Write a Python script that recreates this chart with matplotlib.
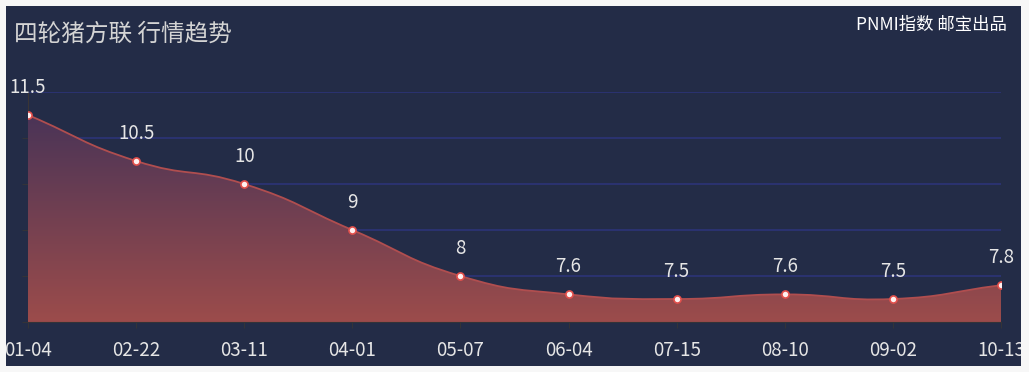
import matplotlib.pyplot as plt
import numpy as np
from matplotlib.path import Path
from matplotlib.patches import PathPatch, Rectangle
from matplotlib.colors import LinearSegmentedColormap

plt.rcParams['font.family'] = ['Noto Sans CJK SC', 'DejaVu Sans']

# 数据
dates = ['01-04', '02-22', '03-11', '04-01', '05-07', '06-04', '07-15', '08-10', '09-02', '10-13']
prices = [11.5, 10.5, 10, 9, 8, 7.6, 7.5, 7.6, 7.5, 7.8]
title = '四轮猪方联 行情趋势'
credit = 'PNMI指数 邮宝出品'

W, H = 1029, 372
bg = '#232c47'
fig = plt.figure(figsize=(W / 100, H / 100), dpi=100)
fig.patch.set_facecolor('#f7f7f7')
fig.add_artist(Rectangle((6 / W, 6 / H), 1015 / W, 361 / H, transform=fig.transFigure,
                         facecolor=bg, edgecolor='none', zorder=-5))

ax = fig.add_axes([28 / W, 50 / H, 973 / W, 230 / H])
ax.set_facecolor('none')
x = np.arange(len(dates))
ax.set_xlim(0, len(dates) - 1)
ax.set_ylim(7, 12)

# 网格线
for v in [8, 9, 10, 11, 12]:
    ax.axhline(v, color='#2c3478', lw=1.2, zorder=1)

for s in ['top', 'right']:
    ax.spines[s].set_visible(False)
ax.spines['left'].set_color('#3a3535')
ax.spines['bottom'].set_color('#333338')
ax.spines['left'].set_zorder(0.5)

ax.set_xticks(x)
ax.set_xticklabels(dates, fontweight='medium')
ax.set_yticks([7, 8, 9, 10, 11, 12])
ax.set_yticklabels([])
ax.tick_params(axis='x', colors='#333338', labelcolor='#e6e6e6', labelsize=13.5,
               length=4, pad=9)
ax.tick_params(axis='y', colors='#333338', length=4)

# 平滑曲线 (echarts 风格)
fig.canvas.draw()
pts = ax.transData.transform(np.column_stack([x, prices]))
smooth = 0.5
cps = []
for i in range(len(pts)):
    prev = pts[i - 1] if i > 0 else pts[i]
    nxt = pts[i + 1] if i < len(pts) - 1 else pts[i]
    v = (nxt - prev) * smooth
    d0 = np.hypot(*(pts[i] - prev))
    d1 = np.hypot(*(pts[i] - nxt))
    s = d0 + d1
    if s:
        d0, d1 = d0 / s, d1 / s
    cps.append((pts[i] - v * d0, pts[i] + v * d1))

verts = [pts[0]]
codes = [Path.MOVETO]
for i in range(len(pts) - 1):
    verts += [cps[i][1], cps[i + 1][0], pts[i + 1]]
    codes += [Path.CURVE4] * 3
inv = ax.transData.inverted()
line_verts = inv.transform(np.array(verts))
line_path = Path(line_verts, codes)

area_verts = np.vstack([line_verts, [[x[-1], 7], [x[0], 7], line_verts[0]]])
area_codes = codes + [Path.LINETO, Path.LINETO, Path.CLOSEPOLY]
area_path = Path(area_verts, area_codes)

cmap = LinearSegmentedColormap.from_list('g', ['#4a3457', '#9c4c4b'])
grad = np.linspace(0, 1, 256).reshape(-1, 1)
im = ax.imshow(grad, cmap=cmap, aspect='auto', extent=[x[0], x[-1], 7, max(prices)],
               origin='upper', zorder=2)
clip = PathPatch(area_path, facecolor='none', edgecolor='none', transform=ax.transData)
ax.add_patch(clip)
im.set_clip_path(clip)

ax.add_patch(PathPatch(line_path, facecolor='none', edgecolor='#b04e4f', lw=1.3, zorder=3))
ax.scatter(x, prices, s=26, color='#fff0f0', edgecolor='#e2504c', linewidth=1.2, zorder=4)

for xi, p in zip(x, prices):
    ax.annotate(f'{p:g}', (xi, p), xytext=(0, 20), textcoords='offset points',
                ha='center', va='center', color='#e6e6e6', fontsize=13.5,
                fontweight='medium', zorder=5)

fig.text(14 / W, 1 - 34 / H, title, ha='left', va='center', color='#d4d4d4',
         fontsize=17, fontweight='medium')
fig.text(1007 / W, 1 - 24.5 / H, credit, ha='right', va='center', color='#ffffff',
         fontsize=12.5, fontweight='medium')

# 外边框遮挡溢出文字
for r in [(0, 0, 6, H), (1021, 0, W - 1021, H), (0, 0, W, 6), (0, 367, W, H - 367)]:
    fig.add_artist(Rectangle((r[0] / W, 1 - (r[1] + r[3]) / H), r[2] / W, r[3] / H,
                             transform=fig.transFigure, facecolor='#f7f7f7',
                             edgecolor='none', zorder=20))

fig.savefig('out.png', dpi=100, facecolor=fig.get_facecolor())
